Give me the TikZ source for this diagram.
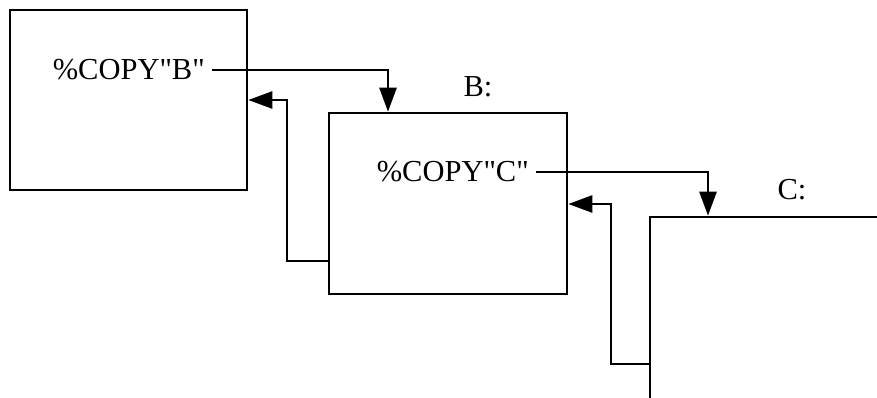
\documentclass[tikz,border=0pt]{standalone}
\usepackage{fontspec}
\newfontfamily\plainserif{Liberation Serif}
\usetikzlibrary{arrows.meta,calc}
\begin{document}
\begin{tikzpicture}[x=1pt,y=-1pt,
  box/.style={draw,line width=2.6pt,inner sep=0pt},
  wire/.style={line width=2.6pt},
  arr/.style={wire,-{Triangle[length=24pt,width=17pt]}},
  lbl/.style={font=\plainserif\fontsize{30.5}{34}\selectfont,inner sep=0pt}]
\useasboundingbox (0,0) rectangle (877,397);
\clip (0,0) rectangle (877,397);
\fill[white] (0,0) rectangle (877,397);
% boxes
\node[box,minimum width=237pt,minimum height=180pt] (A) at (128.5,100) {};
\node[box,minimum width=238pt,minimum height=181pt] (B) at (448,203.5) {};
\node[box,minimum width=300pt,minimum height=250pt] (C) at (800,342) {};
% texts
\node[lbl,anchor=east] (tB) at (205,70) {\%COPY"B"};
\node[lbl,anchor=east] (tC) at (529,172) {\%COPY"C"};
\node[lbl] (lB) at (478,87) {B:};
\node[lbl] (lC) at (792,190) {C:};
% helper points
\coordinate (p1) at (388,0);
\coordinate (p2) at (287,261);
\coordinate (p3) at (287,100);
\coordinate (p4) at (708,0);
\coordinate (p5) at (611,364);
\coordinate (p6) at (611,204);
% connectors
\draw[arr] ([xshift=7pt]tB.east) -| (B.north -| p1);
\draw[arr] (B.west |- p2) -- (p2) -- (p3) -- (A.east |- p3);
\draw[arr] ([xshift=7pt]tC.east) -| (C.north -| p4);
\draw[arr] (C.west |- p5) -- (p5) -- (p6) -- (B.east |- p6);
\end{tikzpicture}
\end{document}
